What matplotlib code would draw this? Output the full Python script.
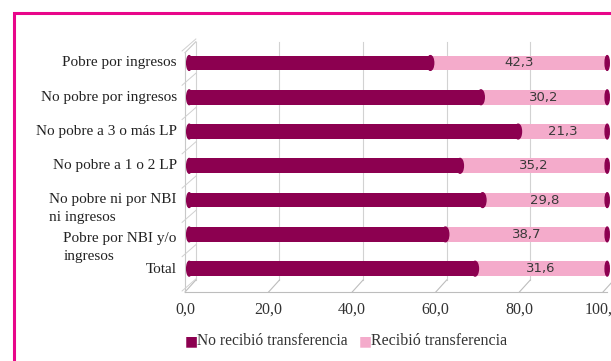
import numpy as np
import matplotlib
matplotlib.use('Agg')
import matplotlib.pyplot as plt
from matplotlib.patches import Ellipse, Rectangle

categorias = ['Pobre por ingresos', 'No pobre por ingresos', 'No pobre a 3 o más LP',
              'No pobre a 1 o 2 LP', 'No pobre ni por NBI\nni ingresos',
              'Pobre por NBI y/o\ningresos', 'Total']
recibio = [42.3, 30.2, 21.3, 35.2, 29.8, 38.7, 31.6]
no_recibio = [100 - v for v in recibio]
ticks_x = [0, 20, 40, 60, 80, 100]
ticks_txt = ['0,0', '20,0', '40,0', '60,0', '80,0', '100,0']

oscuro = '#8c0050'
claro = '#f4abcb'
borde = '#e8068a'
serif = ['Liberation Serif', 'DejaVu Serif']

fig = plt.figure(figsize=(6.11, 3.61), dpi=100)
W, H = 611, 361
# marco rosado
fig.patches.append(Rectangle((14 / W, -0.1), 1.2, (H - 13) / H + 0.1, transform=fig.transFigure,
                             fill=False, edgecolor=borde, linewidth=2.2))

ax = fig.add_axes([185 / W, 1 - 292 / H, (603 - 185) / W, (292 - 40) / H])
ax.set_xlim(0, 100)
ax.set_ylim(6.68, -0.67)
ax.axis('off')

y = np.arange(len(categorias))
dx, fondo = 2.6, 6.33
# pared del fondo y piso
for t in ticks_x:
    ax.plot([t + dx, t + dx], [-0.62, fondo], color='#d2d2d2', lw=0.8, clip_on=False, zorder=0)
    ax.plot([t, t + dx], [6.68, fondo], color='#bdbdbd', lw=0.8, clip_on=False, zorder=0)
ax.plot([0, 0], [-0.3, 6.68], color='#c8c8c8', lw=0.8, clip_on=False, zorder=0)
ax.plot([0, dx], [-0.3, -0.62], color='#c8c8c8', lw=0.8, clip_on=False, zorder=0)
ax.plot([0, 101], [6.68, 6.68], color='#bdbdbd', lw=0.8, clip_on=False, zorder=0)
for k in range(len(categorias) + 1):
    yy = k - 0.5
    ax.plot([-0.7, dx], [yy + 0.15, yy - 0.2], color='#d0d0d0', lw=0.7, zorder=0, clip_on=False)

off = 1.0
alto = 0.43
ax.barh(y, no_recibio, left=off, height=alto, color=oscuro, zorder=2, clip_on=False)
ax.barh(y, recibio, left=[off + v for v in no_recibio], height=alto, color=claro, zorder=2,
        clip_on=False)
for i in range(len(categorias)):
    ax.add_patch(Ellipse((off, i), 1.2, alto, color=oscuro, zorder=2))
    ax.add_patch(Ellipse((off + no_recibio[i], i), 1.6, alto, color=oscuro, zorder=3))
    ax.add_patch(Ellipse((off + 100, i), 1.0, alto, color=oscuro, zorder=3, clip_on=False))
    ax.text(off + no_recibio[i] + recibio[i] / 2, i, f'{recibio[i]:.1f}'.replace('.', ','),
            ha='center', va='center', fontsize=9.5, color='#3a3a3a', family='DejaVu Sans', zorder=4)

# etiquetas de categorías
desplaz = [0, 0, 0, 0, 0.24, 0.38, 0.02]
for i in range(len(categorias)):
    ax.text(-2.0, i + desplaz[i], categorias[i], ha='right', va='center',
            multialignment='left', fontsize=11, family=serif, color='#222222', linespacing=1.45,
            clip_on=False)

for t, s in zip(ticks_x, ticks_txt):
    ax.text(t, 7.2, s, ha='center', va='center', fontsize=11.5, family=serif, color='#333333',
            clip_on=False)

# leyenda
fig.text(185 / W, 1 - 341 / H, '■', color=oscuro, fontsize=10, va='center', family='DejaVu Sans')
fig.text(197 / W, 1 - 341 / H, 'No recibió transferencia', fontsize=11.2, va='center', family=serif,
         color='#333333')
fig.text(359 / W, 1 - 341 / H, '■', color=claro, fontsize=10, va='center', family='DejaVu Sans')
fig.text(371 / W, 1 - 341 / H, 'Recibió transferencia', fontsize=11.5, va='center', family=serif,
         color='#333333')

fig.savefig('out.png', dpi=100)
